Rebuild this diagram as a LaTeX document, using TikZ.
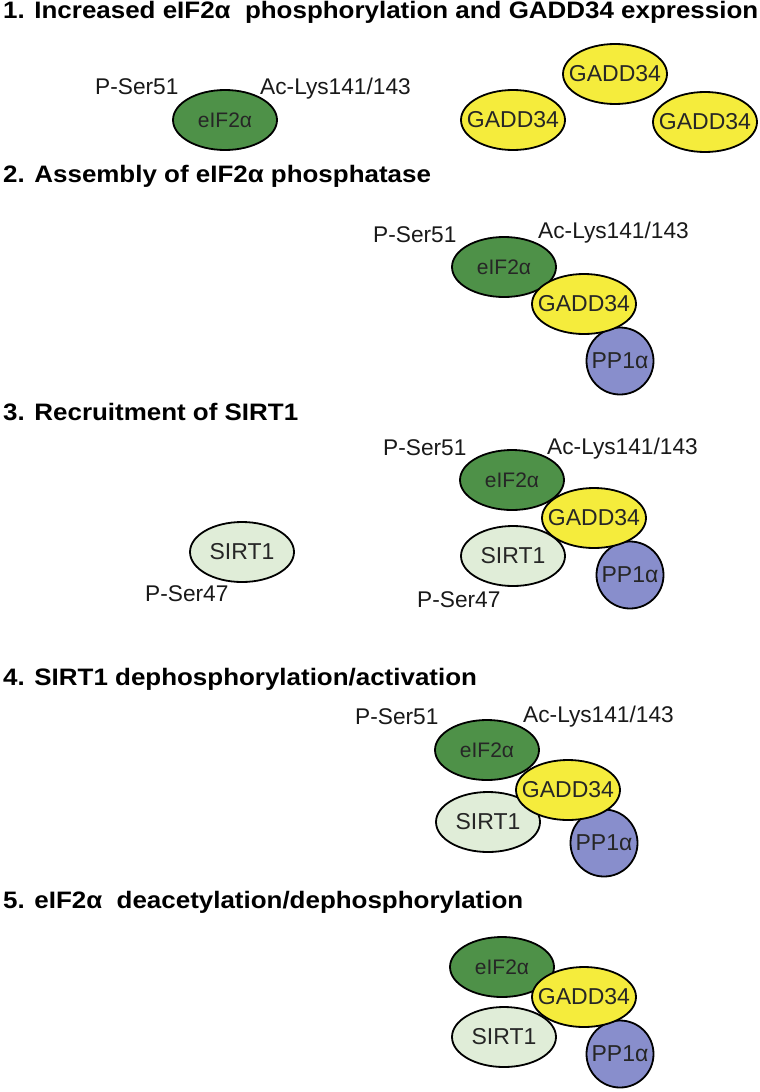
\documentclass[tikz,border=0pt]{standalone}
\usepackage{fontspec}
\setmainfont{Liberation Sans}
\newfontfamily\headfont[FakeStretch=1.09]{Liberation Sans}
\usepackage{xcolor}
\usetikzlibrary{shapes.geometric}

\definecolor{eifgreen}{RGB}{78,145,72}
\definecolor{gaddyellow}{RGB}{245,236,60}
\definecolor{sirtgreen}{RGB}{224,237,216}
\definecolor{ppblue}{RGB}{136,142,204}

% protein name with no width, so the ellipse keeps its own size
\newcommand{\inn}[1]{\makebox[0pt]{#1}}

\begin{document}
\begin{tikzpicture}[x=1pt,y=-1pt,
  title/.style={anchor=base west, inner sep=0pt, font=\headfont\fontsize{23.8}{28}\selectfont\bfseries},
  site/.style={anchor=base west, inner sep=0pt, font=\fontsize{22.7}{27}\selectfont, text=black!90},
  prot/.style={ellipse, draw=black, line width=1.8pt, minimum width=104pt, minimum height=60pt,
    inner sep=0pt, font=\fontsize{23}{27}\selectfont, text=black!85},
  eif/.style={prot, fill=eifgreen, font=\fontsize{21}{25}\selectfont},
  gadd/.style={prot, fill=gaddyellow},
  sirt/.style={prot, fill=sirtgreen},
  pp/.style={prot, circle, fill=ppblue, minimum size=67pt}]
  \useasboundingbox (0,0) rectangle (760,1092);

  % 1. eIF2a and free GADD34
  \node[title] (t1) at (3,18) {1. Increased eIF2α\ \ phosphorylation and GADD34 expression};
  \node[eif] (e1) at (225,120) {\inn{eIF2α}};
  \node[site] (ps1) at (95,94) {P-Ser51};
  \node[site] (ac1) at (260,94) {Ac-Lys141/143};
  \node[gadd] (g1a) at (513,120) {\inn{GADD34}};
  \node[gadd] (g1b) at (615,74) {\inn{GADD34}};
  \node[gadd] (g1c) at (705,122) {\inn{GADD34}};

  % 2. phosphatase complex
  \node[title] (t2) at (3,182) {2. Assembly of eIF2α phosphatase};
  \node[site] (ps2) at (373,242) {P-Ser51};
  \node[site] (ac2) at (538,238) {Ac-Lys141/143};
  \node[eif] (e2) at (504,267) {\inn{eIF2α}};
  \node[pp] (p2) at (620,361) {\inn{PP1α}};
  \node[gadd] (g2) at (584,304) {\inn{GADD34}};

  % 3. SIRT1 joins
  \node[title] (t3) at (3,420) {3. Recruitment of SIRT1};
  \node[sirt] (s3a) at (242,552) {\inn{SIRT1}};
  \node[site] (pq3a) at (145,601) {P-Ser47};
  \node[site] (ps3) at (383,455) {P-Ser51};
  \node[site] (ac3) at (547,454) {Ac-Lys141/143};
  \node[eif] (e3) at (512,480) {\inn{eIF2α}};
  \node[sirt] (s3b) at (513,556) {\inn{SIRT1}};
  \node[pp] (p3) at (630,575) {\inn{PP1α}};
  \node[gadd] (g3) at (594,518) {\inn{GADD34}};
  \node[site] (pq3b) at (417,607) {P-Ser47};

  % 4. SIRT1 active
  \node[title] (t4) at (3,685) {4. SIRT1 dephosphorylation/activation};
  \node[site] (ps4) at (355,724) {P-Ser51};
  \node[site] (ac4) at (523,722) {Ac-Lys141/143};
  \node[eif] (e4) at (487,750) {\inn{eIF2α}};
  \node[sirt] (s4) at (488,822) {\inn{SIRT1}};
  \node[pp] (p4) at (604,843) {\inn{PP1α}};
  \node[gadd] (g4) at (568,790) {\inn{GADD34}};

  % 5. all sites cleared
  \node[title] (t5) at (3,908) {5. eIF2α\ \ deacetylation/dephosphorylation};
  \node[eif] (e5) at (502,967) {\inn{eIF2α}};
  \node[sirt] (s5) at (504,1037) {\inn{SIRT1}};
  \node[pp] (p5) at (620,1054) {\inn{PP1α}};
  \node[gadd] (g5) at (584,997) {\inn{GADD34}};
\end{tikzpicture}
\end{document}
